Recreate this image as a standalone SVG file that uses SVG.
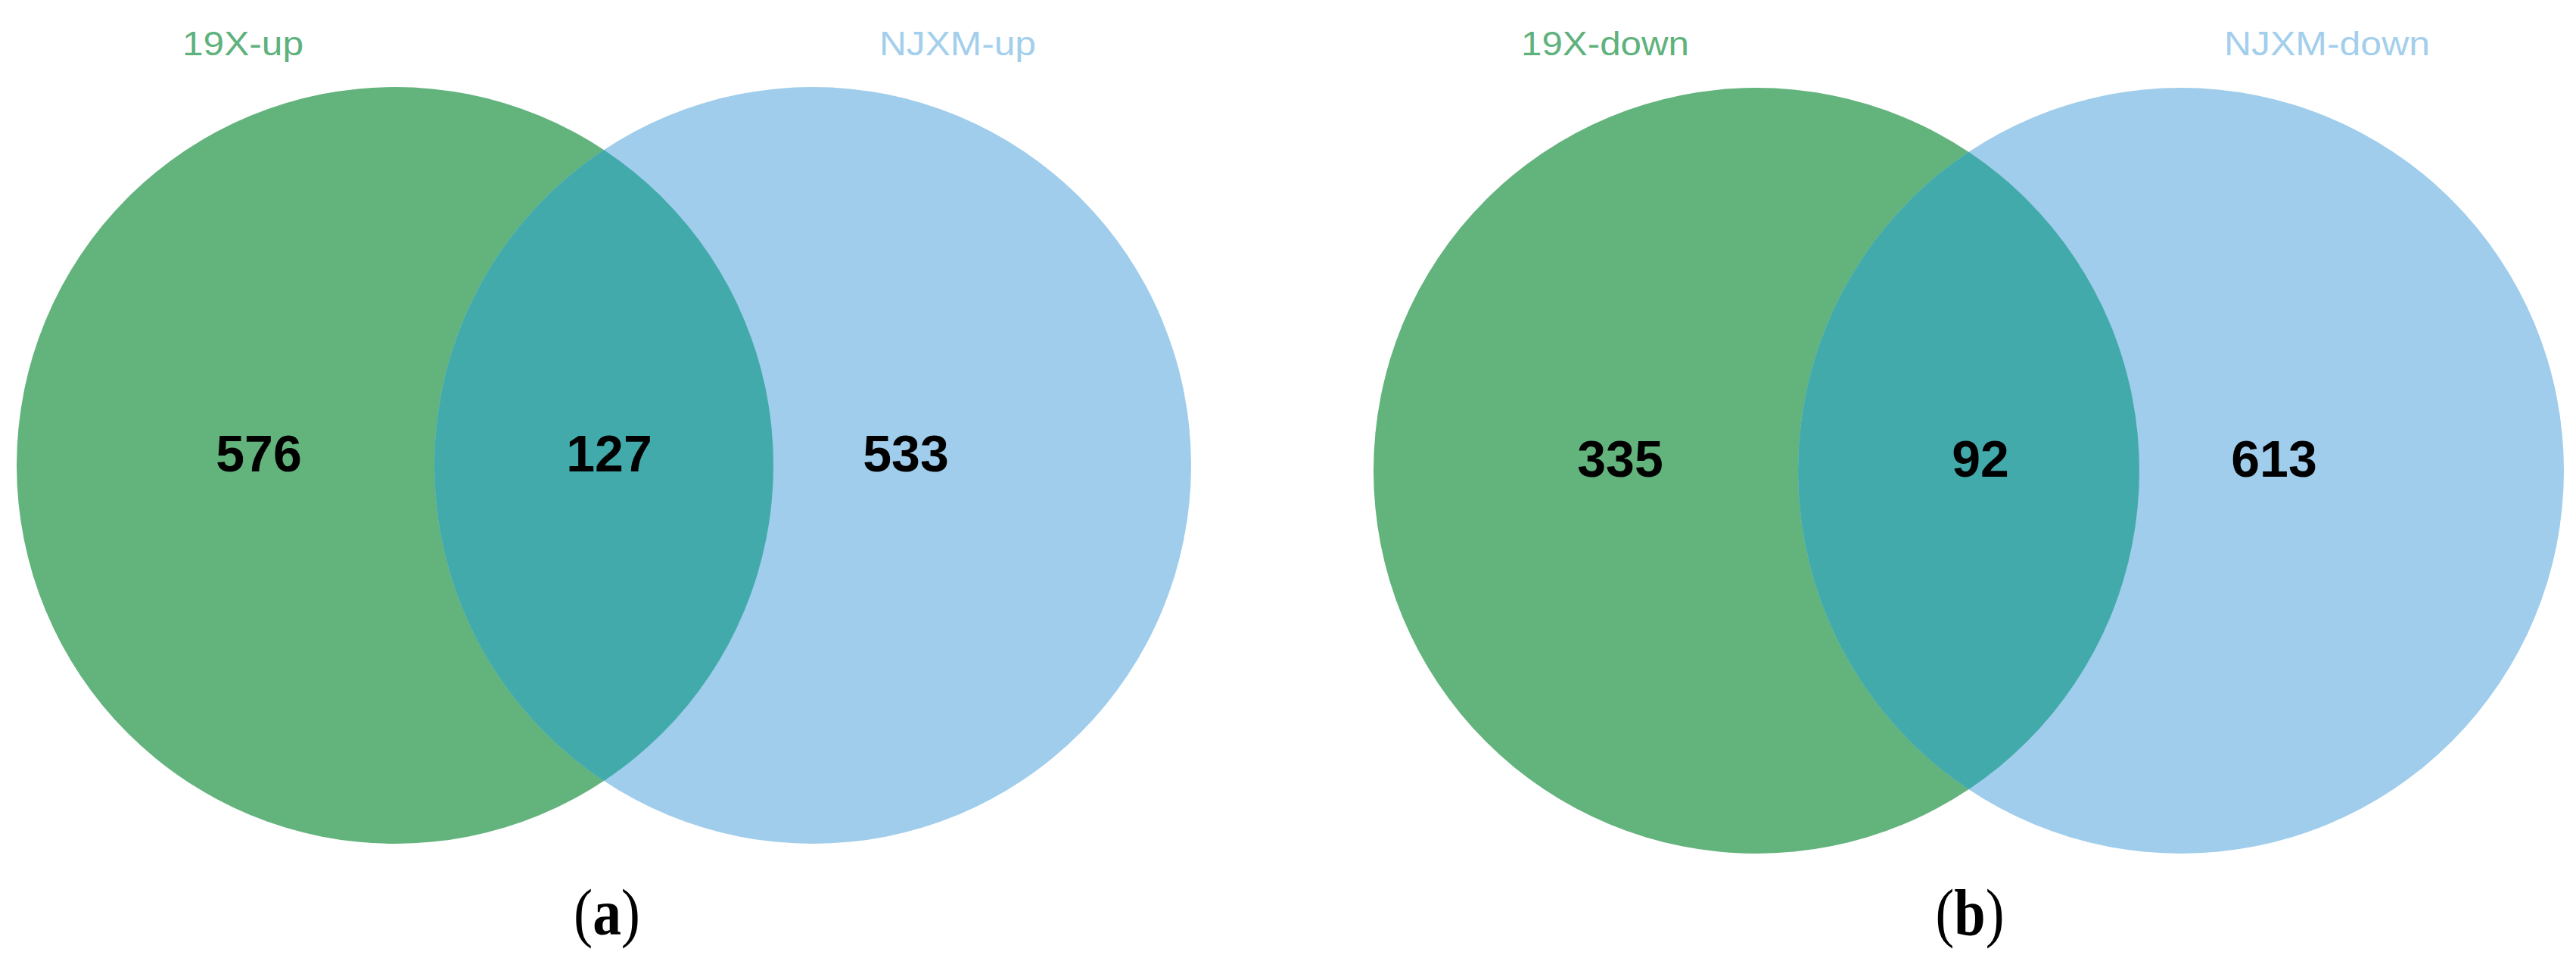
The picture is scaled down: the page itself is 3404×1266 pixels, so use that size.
<svg xmlns="http://www.w3.org/2000/svg" width="3404" height="1266" viewBox="0 0 3404 1266">
<style>
.g{fill:#63B37D}
.b{fill:#9FCDEB}
.o{fill:#42AAAB}
.lab{font-family:"Liberation Sans",Arial,sans-serif;font-size:44px}
.lg{fill:#5FB27D}
.lb{fill:#A3CFEC}
.num{font-family:"Liberation Sans",Arial,sans-serif;font-size:68px;font-weight:bold;fill:#000;text-anchor:middle}
.cap{font-family:"Liberation Serif","Times New Roman",serif;font-size:86px;fill:#000;text-anchor:middle}
</style>
<defs>
<clipPath id="clipA"><circle cx="522" cy="615" r="500"/></clipPath>
<clipPath id="clipB"><circle cx="2321" cy="622" r="506"/></clipPath>
</defs>
<rect width="3404" height="1266" fill="#fff"/>
<g id="panel-a">
<g id="set-19X-up"><circle class="g" cx="522" cy="615" r="500"/></g>
<g id="set-NJXM-up"><circle class="b" cx="1074" cy="615" r="500"/></g>
<g id="overlap-a"><circle class="o" cx="1074" cy="615" r="500" clip-path="url(#clipA)"/></g>
<text class="lab lg" x="241" y="73" textLength="160" lengthAdjust="spacingAndGlyphs">19X-up</text>
<text class="lab lb" x="1162" y="73" textLength="207" lengthAdjust="spacingAndGlyphs">NJXM-up</text>
<text class="num" x="342" y="623">576</text>
<text class="num" x="805" y="623">127</text>
<text class="num" x="1197" y="623">533</text>
<text class="cap" x="802" y="1235" textLength="88" lengthAdjust="spacingAndGlyphs">(<tspan font-weight="bold">a</tspan>)</text>
</g>
<g id="panel-b">
<g id="set-19X-down"><circle class="g" cx="2321" cy="622" r="506"/></g>
<g id="set-NJXM-down"><circle class="b" cx="2882" cy="622" r="506"/></g>
<g id="overlap-b"><circle class="o" cx="2882" cy="622" r="506" clip-path="url(#clipB)"/></g>
<text class="lab lg" x="2010" y="73" textLength="222" lengthAdjust="spacingAndGlyphs">19X-down</text>
<text class="lab lb" x="2939" y="73" textLength="272" lengthAdjust="spacingAndGlyphs">NJXM-down</text>
<text class="num" x="2141" y="630">335</text>
<text class="num" x="2617" y="630">92</text>
<text class="num" x="3005" y="630">613</text>
<text class="cap" x="2603" y="1235" textLength="91" lengthAdjust="spacingAndGlyphs">(<tspan font-weight="bold">b</tspan>)</text>
</g>
<g id="connectors"/>
</svg>
